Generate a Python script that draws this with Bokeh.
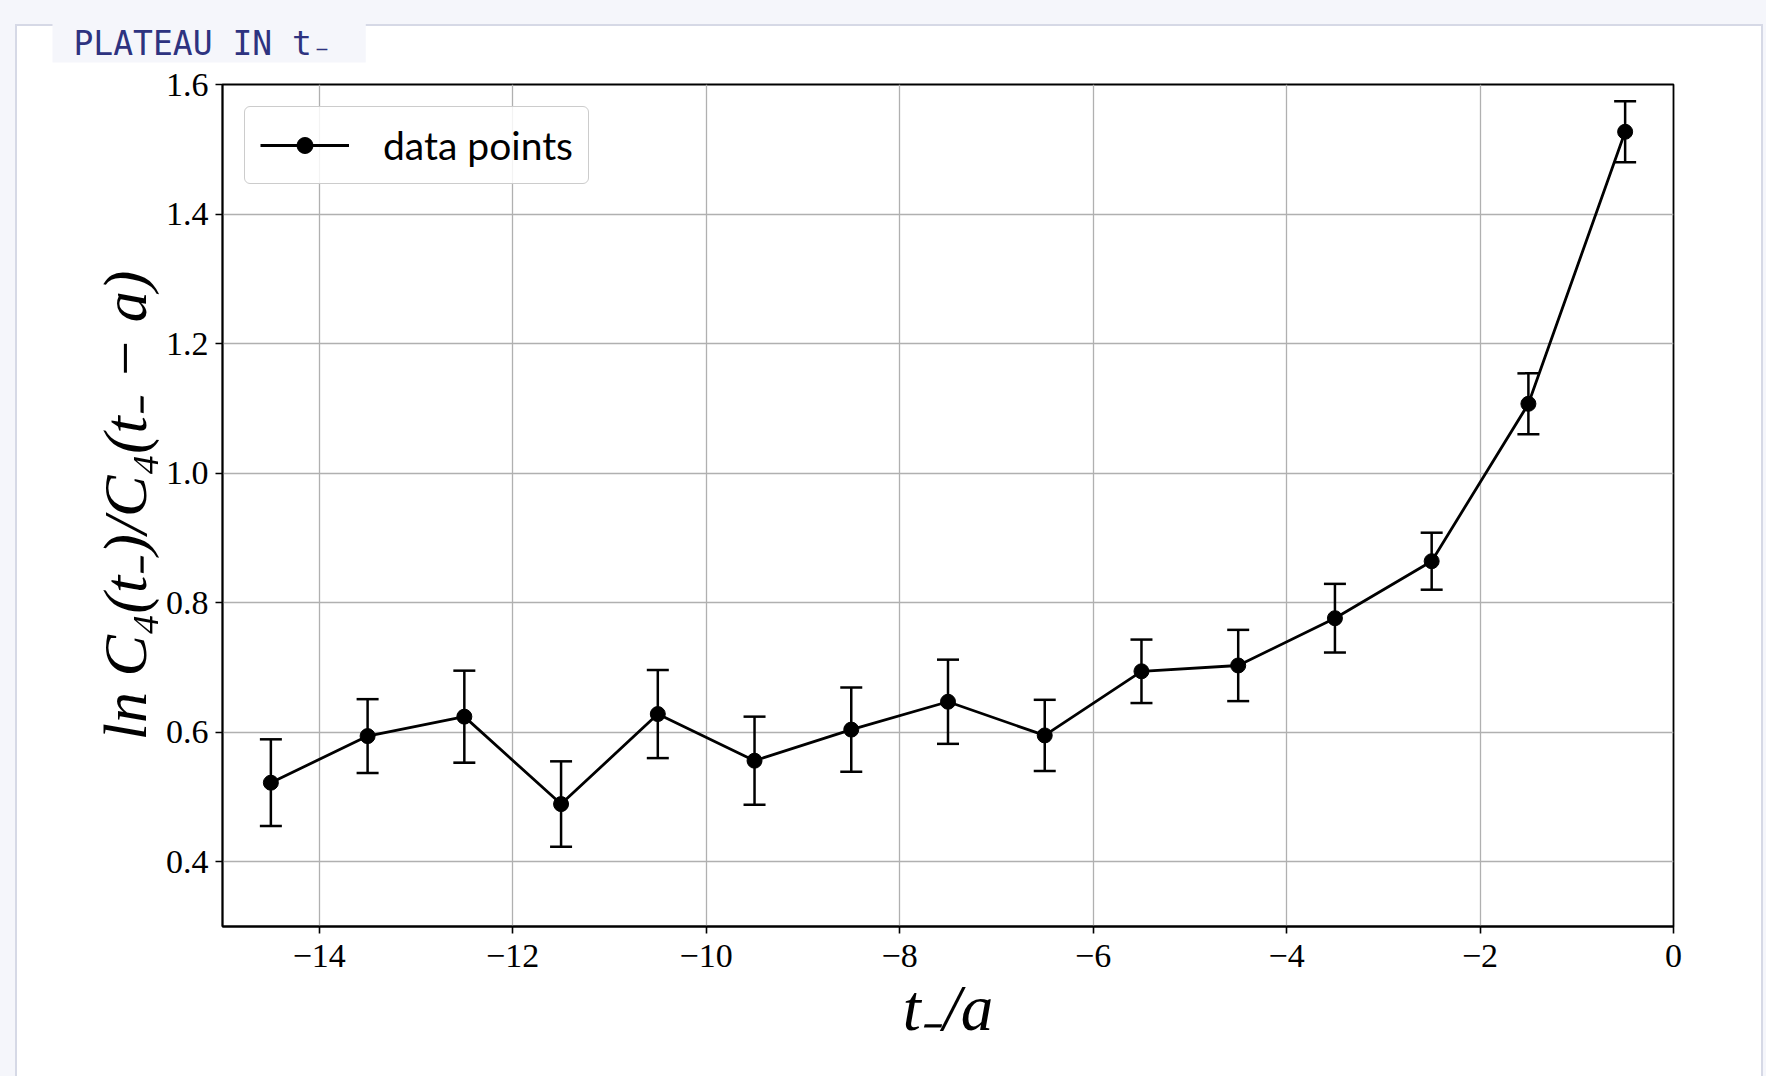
from bokeh.plotting import figure
from bokeh.models import (ColumnDataSource, Range1d, FixedTicker, Whisker, TeeHead,
                          Legend, LegendItem, Title)
from bokeh.embed import file_html
from bokeh.resources import INLINE

# ---------------- data ----------------
t_minus = [-14.5, -13.5, -12.5, -11.5, -10.5, -9.5, -8.5, -7.5,
           -6.5, -5.5, -4.5, -3.5, -2.5, -1.5, -0.5]
log_ratio = [0.522, 0.594, 0.624, 0.489, 0.628, 0.556, 0.604, 0.647,
             0.595, 0.694, 0.703, 0.776, 0.864, 1.107, 1.527]
log_ratio_err = [0.067, 0.057, 0.071, 0.066, 0.068, 0.068, 0.065, 0.065,
                 0.055, 0.049, 0.055, 0.053, 0.044, 0.047, 0.047]

x_ticks = [-14, -12, -10, -8, -6, -4, -2, 0]
x_tick_labels = ["−14", "−12", "−10", "−8", "−6", "−4", "−2", "0"]
y_ticks = [0.4, 0.6, 0.8, 1.0, 1.2, 1.4, 1.6]
y_tick_labels = ["0.4", "0.6", "0.8", "1.0", "1.2", "1.4", "1.6"]

title_text = "PLATEAU IN t₋"
x_label = "t₋/a"
y_label = "ln C₄(t₋)/C₄(t₋ − a)"
legend_label = "data points"

# ---------------- figure ----------------
src = ColumnDataSource(dict(
    x=t_minus, y=log_ratio,
    upper=[v + e for v, e in zip(log_ratio, log_ratio_err)],
    lower=[v - e for v, e in zip(log_ratio, log_ratio_err)],
))

PAGE_BG = "#f5f6fb"
PANEL_LINE = "#d6d9e6"
W, H = 1766, 1076
p = figure(width=W, height=H,
           x_range=Range1d(-15, 0), y_range=Range1d(0.3, 1.6),
           output_backend="svg", toolbar_location=None,
           min_border_left=222, min_border_right=W - 1673,
           min_border_top=84, min_border_bottom=H - 926,
           border_fill_color="white", border_fill_alpha=0.0,
           background_fill_color="white")

# page background with a white bordered card behind the chart (CSS only)
p.styles = {
    "background": (
        f"linear-gradient({PANEL_LINE},{PANEL_LINE}) 15px 24px / 2px 2000px no-repeat, "
        f"linear-gradient({PANEL_LINE},{PANEL_LINE}) 15px 24px / 1748px 2px no-repeat, "
        f"linear-gradient({PANEL_LINE},{PANEL_LINE}) 1761px 24px / 2px 2000px no-repeat, "
        "linear-gradient(#ffffff,#ffffff) 17px 26px / 1744px 2000px no-repeat, "
        f"{PAGE_BG}"
    )
}

# title tab
p.title = Title(text=title_text, align="left", vertical_align="top",
                offset=-170, standoff=40,
                text_font="DejaVu Sans Mono", text_font_size="33px",
                text_font_style="normal", text_color="#2e3380",
                background_fill_color=PAGE_BG, background_fill_alpha=1.0)
if "padding" in Title.properties():
    p.title.padding = dict(left=21, right=34, top=0, bottom=0)

# grid
p.xgrid.ticker = FixedTicker(ticks=x_ticks)
p.ygrid.ticker = FixedTicker(ticks=y_ticks)
for g in (p.xgrid, p.ygrid):
    g.grid_line_color = "#b0b0b0"
    g.grid_line_width = 1.3

# outline
p.outline_line_color = "black"
p.outline_line_width = 1.8
p.outline_line_alpha = 1.0

# axes
p.xaxis.ticker = FixedTicker(ticks=x_ticks)
p.yaxis.ticker = FixedTicker(ticks=y_ticks)
p.xaxis.major_label_overrides = dict(zip(x_ticks, x_tick_labels))
p.yaxis.major_label_overrides = dict(zip(y_ticks, y_tick_labels))
for ax in (p.xaxis, p.yaxis):
    ax.axis_line_color = "black"
    ax.axis_line_width = 1.8
    ax.major_tick_line_color = "black"
    ax.major_tick_line_width = 1.6
    ax.major_tick_out = 7
    ax.major_tick_in = 0
    ax.minor_tick_line_color = None
    ax.major_label_text_font = "Liberation Serif"
    ax.major_label_text_font_size = "34px"
    ax.major_label_text_color = "black"
    ax.axis_label_text_font = "Liberation Serif"
    ax.axis_label_text_font_style = "italic"
    ax.axis_label_text_color = "black"
p.xaxis.major_label_standoff = 11
p.yaxis.major_label_standoff = 7
p.xaxis.axis_label = x_label
p.yaxis.axis_label = y_label
p.xaxis.axis_label_text_font_size = "65px"
p.yaxis.axis_label_text_font_size = "62px"
p.xaxis.axis_label_standoff = 2
p.yaxis.axis_label_standoff = 4

# error bars
wk = Whisker(source=src, base="x", upper="upper", lower="lower",
             line_color="black", line_width=2.5,
             upper_head=TeeHead(size=22, line_color="black", line_width=2.5),
             lower_head=TeeHead(size=22, line_color="black", line_width=2.5),
             level="glyph")
p.add_layout(wk)

line_r = p.line("x", "y", source=src, line_color="black", line_width=2.8)
pts_r = p.scatter("x", "y", source=src, marker="circle", size=15,
                  fill_color="black", line_color="black")

legend = Legend(items=[LegendItem(label=legend_label, renderers=[line_r, pts_r])],
                location="top_left", margin=22, padding=15,
                glyph_width=89, glyph_height=40, label_standoff=34,
                label_text_font="Lato", label_text_font_size="39px",
                label_text_color="black", label_height=42,
                border_line_color="#cccccc", border_line_width=1.5,
                border_line_alpha=1.0,
                background_fill_color="white", background_fill_alpha=0.85)
if "border_radius" in Legend.properties():
    legend.border_radius = 6
p.add_layout(legend)

open("out.html", "w").write(file_html(p, INLINE))
